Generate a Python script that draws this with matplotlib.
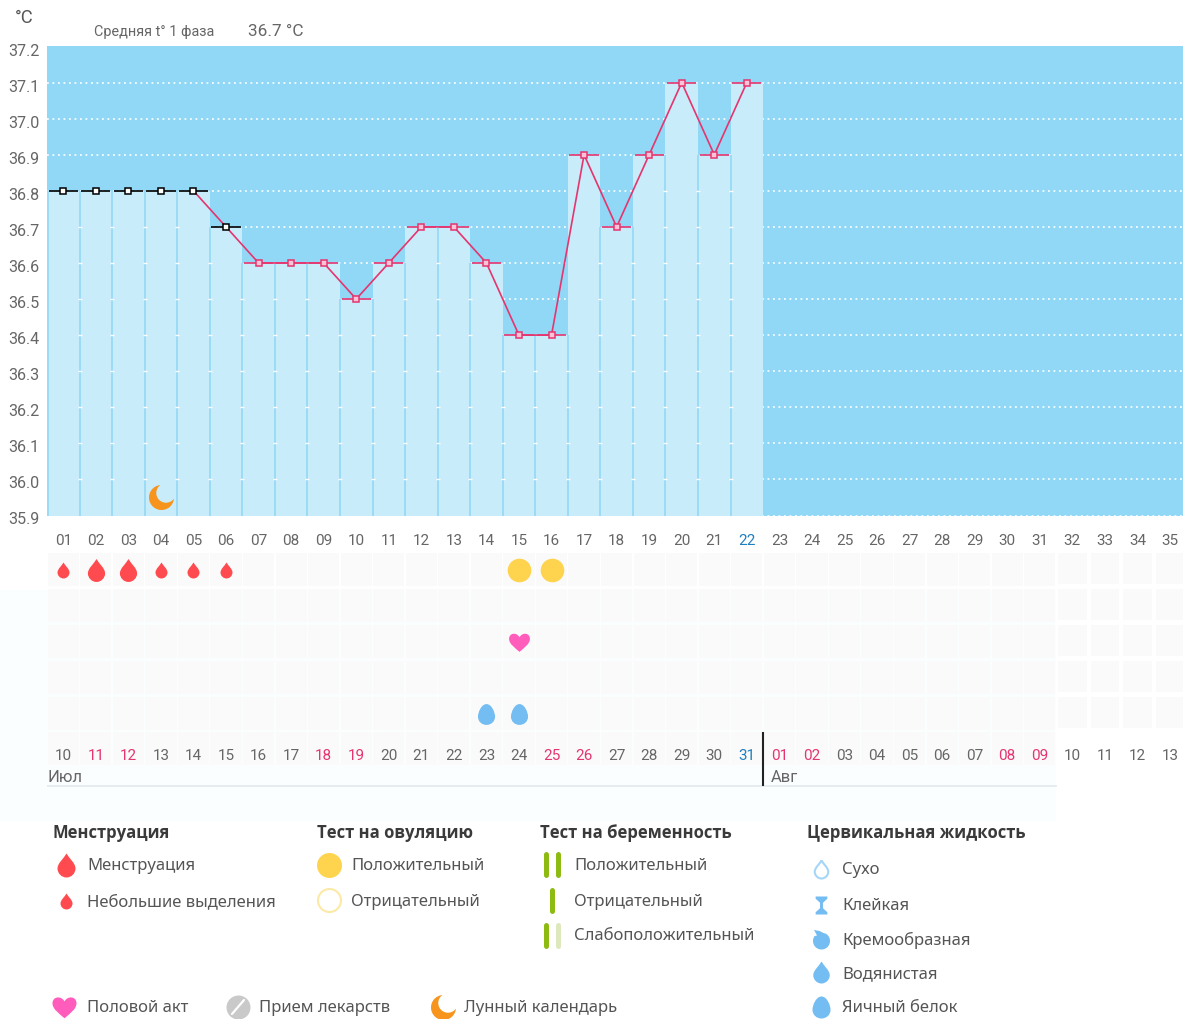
import numpy as np
import matplotlib
matplotlib.use('Agg')
import matplotlib.pyplot as plt
from matplotlib.path import Path
from matplotlib.transforms import ScaledTranslation

plt.rcParams['font.family'] = ['Roboto', 'DejaVu Sans']

# data
temps = [36.8, 36.8, 36.8, 36.8, 36.8, 36.7, 36.6, 36.6, 36.6, 36.5, 36.6,
         36.7, 36.7, 36.6, 36.4, 36.4, 36.9, 36.7, 36.9, 37.1, 36.9, 37.1]
excluded_days = 6  # the first days are drawn in black
y_ticks = [35.9, 36.0, 36.1, 36.2, 36.3, 36.4, 36.5, 36.6, 36.7, 36.8, 36.9, 37.0, 37.1, 37.2]
cycle_days = ['%02d' % d for d in range(1, 36)]
dates = ['10', '11', '12', '13', '14', '15', '16', '17', '18', '19', '20', '21',
         '22', '23', '24', '25', '26', '27', '28', '29', '30', '31',
         '01', '02', '03', '04', '05', '06', '07', '08', '09', '10', '11', '12', '13']
weekend_dates = [1, 2, 8, 9, 15, 16, 22, 23, 29, 30]  # positions in dates
today_day = 22
moon_days = [4]
moon_temp = [35.95]
small_drop_days = [1, 4, 5, 6]
big_drop_days = [2, 3]
ovulation_days = [15, 16]
sex_days = [15]
egg_white_days = [14, 15]

menstr_labels = ['Менструация', 'Небольшие выделения']
ovul_labels = ['Положительный', 'Отрицательный']
preg_labels = ['Положительный', 'Отрицательный', 'Слабоположительный']
fluid_labels = ['Сухо', 'Клейкая', 'Кремообразная', 'Водянистая', 'Яичный белок']

W, H = 1200, 1019
COL_W = 32.55
PINK = '#e5356f'
BLUE_DATE = '#1f7fc0'
GREY = '#666666'
RED = '#ff4b4f'
YELLOW = '#fed44f'
FLUID = '#74bdf2'
HEART = '#ff5cbb'
MOON = '#f7941d'
GREEN = '#8dbb12'


# marker shapes
def drop_path():
    verts = [(0, 1), (0.22, 0.6), (0.75, 0.2), (0.75, -0.25),
             (0.75, -0.66), (0.41, -1), (0, -1),
             (-0.41, -1), (-0.75, -0.66), (-0.75, -0.25),
             (-0.75, 0.2), (-0.22, 0.6), (0, 1)]
    return Path(verts, [Path.MOVETO] + [Path.CURVE4] * 12)


def egg_path():
    verts = [(0, 1), (0.5, 1), (0.82, 0.2), (0.82, -0.2),
             (0.82, -0.68), (0.45, -1), (0, -1),
             (-0.45, -1), (-0.82, -0.68), (-0.82, -0.2),
             (-0.82, 0.2), (-0.5, 1), (0, 1)]
    return Path(verts, [Path.MOVETO] + [Path.CURVE4] * 12)


def heart_path():
    verts = [(0, -0.9), (-0.45, -0.5), (-1, -0.15), (-1, 0.35),
             (-1, 0.95), (-0.25, 1.0), (0, 0.5),
             (0.25, 1.0), (1, 0.95), (1, 0.35),
             (1, -0.15), (0.45, -0.5), (0, -0.9)]
    return Path(verts, [Path.MOVETO] + [Path.CURVE4] * 12)


def moon_path():
    t = np.radians(np.linspace(95, 355, 50))
    outer = np.c_[np.cos(t), np.sin(t)]
    c = 0.36
    r = np.hypot(outer[0, 0] - c, outer[0, 1] - c)
    a0 = np.arctan2(outer[-1, 1] - c, outer[-1, 0] - c)
    a1 = np.arctan2(outer[0, 1] - c, outer[0, 0] - c) - 2 * np.pi
    t = np.linspace(a0, a1, 50)
    inner = np.c_[c + r * np.cos(t), c + r * np.sin(t)]
    return Path(np.vstack([outer, inner, outer[:1]]), closed=True)


def sticky_path():
    verts = [(-0.65, 1), (0.65, 1), (0.65, 0.75), (0.16, 0.3), (0.16, -0.3),
             (0.65, -0.75), (0.65, -1), (-0.65, -1), (-0.65, -0.75),
             (-0.16, -0.3), (-0.16, 0.3), (-0.65, 0.75), (-0.65, 1)]
    return Path(verts, closed=True)


def creamy_path():
    t = np.radians(np.linspace(60, -215, 50))
    body = np.c_[0.85 * np.cos(t), 0.85 * np.sin(t) - 0.15]
    tail = np.array([(-0.45, 0.4), (-0.75, 0.95), (-0.2, 0.85), (0.2, 0.65)])
    return Path(np.vstack([body, tail, body[:1]]), closed=True)


fig = plt.figure(figsize=(W / 100, H / 100), dpi=100, facecolor='white')


def px_axes(left, top, right, bottom):
    return fig.add_axes([left / W, 1 - bottom / H, (right - left) / W, (bottom - top) / H])


# whole figure in pixels: texts above the chart and the legend
ax_px = fig.add_axes([0, 0, 1, 1], zorder=0)
ax_px.set_xlim(0, W)
ax_px.set_ylim(H, 0)
ax_px.axis('off')
ax_px.fill_between([0, 1056], 590, 822, color='#fbfeff', lw=0, zorder=0)

# main temperature chart
x_max = 0.5 + (1183 - 47) / COL_W
ax = px_axes(47, 46.5, 1183, 515.5)
ax.set_zorder(2)
ax.set_facecolor('#90d8f6')
ax.set_xlim(0.5, x_max)
ax.set_ylim(35.9, 37.2)
for side in ax.spines.values():
    side.set_visible(False)

days = np.arange(1, len(temps) + 1)
for level in y_ticks[:-1]:
    ax.plot([0.5, x_max], [level, level], color='white', lw=1.2,
            dashes=(1.1, 2.2), zorder=1, clip_on=(level != 35.9))
ax.bar(days, np.array(temps) - 35.9, bottom=35.9, width=1.0, color='#c8ecfa', lw=0, zorder=2)
for d, t in zip(days, temps):
    if d < len(temps):
        low = min(t, temps[d])
        ax.plot([d + 0.5, d + 0.5], [35.9, low], color='#8fd6f4', lw=1.1, zorder=3,
                solid_capstyle='butt')
        # the white dots of the grid show through the separators
        marks = [v for v in y_ticks[1:] if v < low]
        ax.plot([d + 0.5] * len(marks), marks, ls='none', marker='_', ms=2.2, mew=1,
                color='white', zorder=3.5)
    ax.plot([d - 0.45, d + 0.45], [t, t], lw=1.2, zorder=5,
            color='black' if d <= excluded_days else PINK, solid_capstyle='butt')
ax.plot([0.52, 0.52], [35.9, temps[0]], color='#8fd6f4', lw=1.1, zorder=3)

ax.plot(days[excluded_days - 2:], temps[excluded_days - 2:], color=PINK, lw=1.2, zorder=4)
ax.plot(days[excluded_days:], temps[excluded_days:], ls='none', marker='s', ms=5, mfc='#f9c4d6',
        mec=PINK, mew=1.1, zorder=6)
ax.plot(days[:excluded_days], temps[:excluded_days], ls='none', marker='s', ms=5, mfc='white',
        mec='black', mew=1.1, zorder=6)
ax.plot(moon_days, moon_temp, ls='none', marker=moon_path(), ms=18, color=MOON, mew=0, zorder=6)

ax.set_yticks(y_ticks)
ax.set_yticklabels(['%.1f' % v for v in y_ticks])
ax.set_xticks(np.arange(1, 36))
ax.set_xticklabels(cycle_days)
ax.tick_params(axis='y', length=0, pad=5.5, labelsize=11.6, labelcolor=GREY)
ax.tick_params(axis='x', length=0, pad=13.3, labelsize=11, labelcolor=GREY)
shift = ScaledTranslation(0, -3 / 100, fig.dpi_scale_trans)
for lab in ax.get_yticklabels():
    lab.set_verticalalignment('center_baseline')
    lab.set_transform(lab.get_transform() + shift)
ax.get_xticklabels()[today_day - 1].set_color(BLUE_DATE)

# rows of event cells below the chart
ax_low = px_axes(47, 520, 1183, 800)
ax_low.set_zorder(1)
ax_low.patch.set_alpha(0)
ax_low.set_xlim(0.5, x_max)
ax_low.set_ylim(800, 520)
ax_low.axis('off')

row_tops = [553, 589, 625, 661, 697, 732]
row_h = 33
all_days = np.arange(1, 36)
for i, top in enumerate(row_tops):
    ax_low.bar(all_days[:31], row_h, bottom=top, width=0.96, color='#fafafa', lw=0, zorder=1)
    if i < 5:
        ax_low.bar(all_days[31:], row_h - 2, bottom=top, width=0.88, color='#fafafa', lw=0, zorder=1)


def row_y(row, n):
    return [row_tops[row] + row_h / 2 + 0.5] * n


ax_low.plot(small_drop_days, row_y(0, 4), ls='none', marker=drop_path(), ms=11.5, color=RED, mew=0, zorder=3)
ax_low.plot(big_drop_days, row_y(0, 2), ls='none', marker=drop_path(), ms=16.5, color=RED, mew=0, zorder=3)
ax_low.plot(ovulation_days, row_y(0, 2), ls='none', marker='o', ms=17, color=YELLOW, mew=0, zorder=3)
ax_low.plot(sex_days, row_y(2, 1), ls='none', marker=heart_path(), ms=15, color=HEART, mew=0, zorder=3)
ax_low.plot(egg_white_days, row_y(4, 2), ls='none', marker=egg_path(), ms=15, color=FLUID, mew=0, zorder=3)

for i, label in enumerate(dates):
    if i == today_day - 1:
        col = BLUE_DATE
    elif i in weekend_dates:
        col = PINK
    else:
        col = GREY
    ax_low.text(i + 1, 755.5, label, color=col, fontsize=11, ha='center', va='center', zorder=4)

ax_low.plot([0.5, 31.5], [785.5, 785.5], color='#e6edf1', lw=1.4, zorder=2)
ax_low.plot([today_day + 0.5] * 2, [732, 786], color='#222222', lw=1.5, zorder=5, solid_capstyle='butt')
ax_low.text(0.52, 777, 'Июл', color=GREY, fontsize=12, ha='left', va='center')
ax_low.text(today_day + 0.75, 777, 'Авг', color=GREY, fontsize=12, ha='left', va='center')

# texts above the chart
ax_px.text(24.5, 18, '°C', color='#555555', fontsize=13.2, ha='center', va='center')
ax_px.text(94, 31.5, 'Средняя t° 1 фаза', color='#666666', fontsize=10.4, ha='left', va='center')
ax_px.text(248, 31.5, '36.7 °C', color='#666666', fontsize=12.4, ha='left', va='center')

# legend
LEG = ['Open Sans', 'DejaVu Sans']
LEG2 = ['Noto Sans', 'DejaVu Sans']
TXT = '#555555'


def title(x, s):
    ax_px.text(x, 833, s, color='#3a3a3a', fontsize=12, fontweight='bold', family=LEG,
               ha='left', va='center')


def entry(x, y, s):
    ax_px.text(x, y + 1.5, s, color=TXT, fontsize=12, family=LEG2, ha='left', va='center')


def icon(x, y, marker, size, color, **kw):
    ax_px.plot([x], [y], ls='none', marker=marker, ms=size * 0.72, color=color, mew=kw.pop('mew', 0), **kw)


def stick(x, y, color):
    ax_px.plot([x, x], [y - 10.5, y + 10.5], color=color, lw=3.6, solid_capstyle='round')


title(53, 'Менструация')
title(317, 'Тест на овуляцию')
title(540, 'Тест на беременность')
title(807, 'Цервикальная жидкость')

icon(66, 865, drop_path(), 24, RED)
icon(66, 901, drop_path(), 16, RED)
entry(87, 865, menstr_labels[0])
entry(87, 901, menstr_labels[1])

icon(329, 865, 'o', 25, YELLOW)
icon(329, 899.5, 'o', 23, 'white', mec='#fde9a6', mew=1.5)
entry(351, 865, ovul_labels[0])
entry(351, 901, ovul_labels[1])

stick(546, 864, GREEN)
stick(558, 864, GREEN)
stick(552, 900, GREEN)
stick(546, 935, GREEN)
stick(558, 935, '#dde9bd')
entry(574, 865, preg_labels[0])
entry(574, 901, preg_labels[1])
entry(574, 935, preg_labels[2])

icon(821, 869, drop_path(), 18, 'white', mec='#a6d6f7', mew=1.5)
icon(821, 905, sticky_path(), 18, FLUID)
icon(821, 939, creamy_path(), 20, FLUID)
icon(821, 972, drop_path(), 22, FLUID)
icon(821, 1007, egg_path(), 22, FLUID)
fluid_y = [869, 905, 939, 973, 1007]
for y, s in zip(fluid_y, fluid_labels):
    entry(842, y, s)

icon(64, 1007, heart_path(), 24, HEART)
entry(87, 1007, 'Половой акт')
icon(238, 1007, 'o', 24, '#c9c9c9')
ax_px.plot([232, 244], [1014, 1000], color='white', lw=1.6, solid_capstyle='round')
entry(259, 1007, 'Прием лекарств')
icon(443, 1007, moon_path(), 25, MOON)
entry(464, 1007, 'Лунный календарь')

fig.savefig('out.png', dpi=100)
